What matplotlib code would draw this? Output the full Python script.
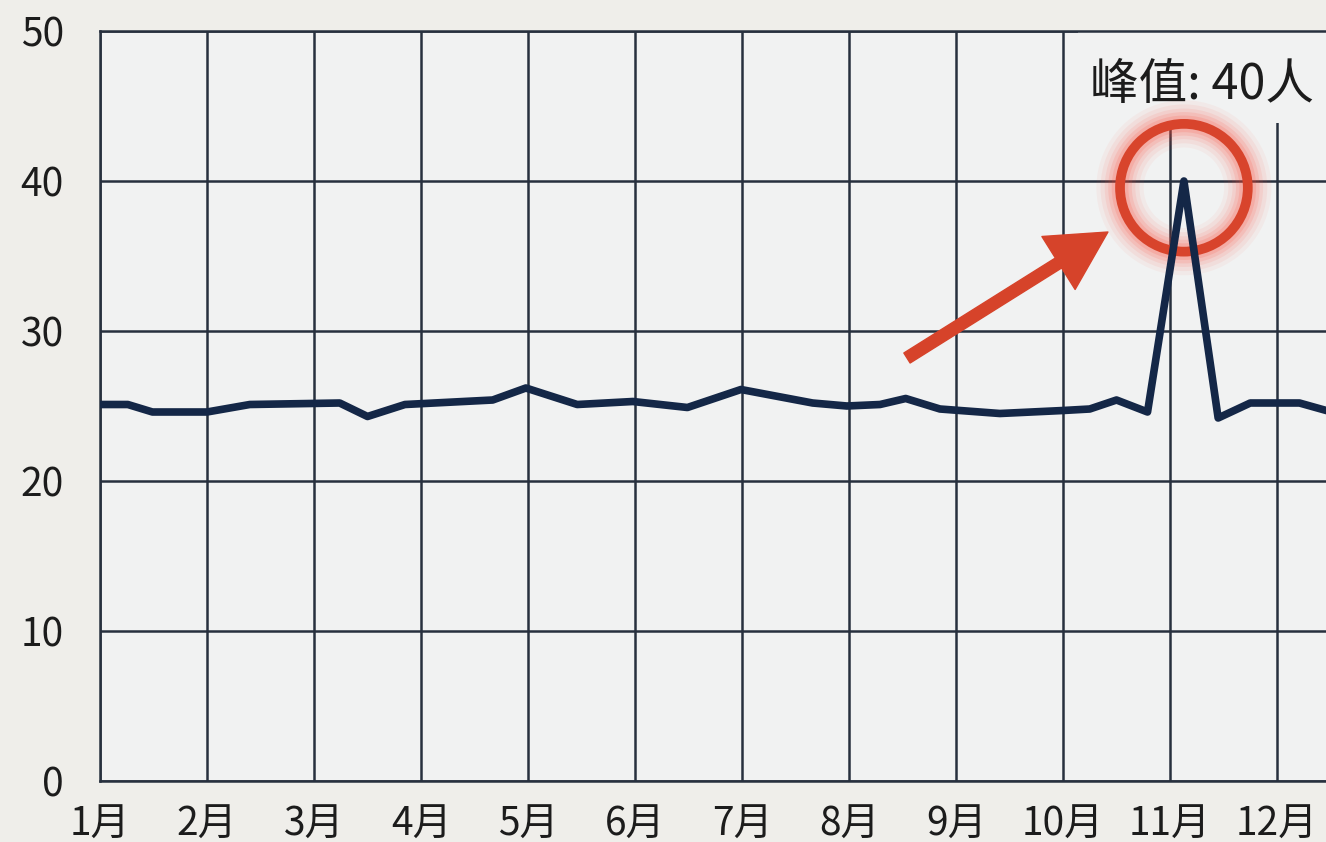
import matplotlib
matplotlib.use("Agg")
import matplotlib.pyplot as plt
from matplotlib.patches import FancyArrowPatch, Rectangle

plt.rcParams['font.family'] = ['Noto Sans CJK SC', 'DejaVu Sans']

# ---- data ----
month_labels = ['1月', '2月', '3月', '4月', '5月', '6月', '7月', '8月', '9月', '10月', '11月', '12月']
month_ticks = list(range(1, 13))
y_ticks = [0, 10, 20, 30, 40, 50]

x_pos = [1.00, 1.26, 1.49, 2.00, 2.40, 3.24, 3.50, 3.85, 4.67, 4.98, 5.46, 5.98,
         6.49, 6.99, 7.66, 7.98, 8.29, 8.53, 8.85, 9.41, 10.00, 10.25, 10.50,
         10.79, 11.13, 11.45, 11.75, 12.21, 12.46, 12.60]
values = [25.1, 25.1, 24.6, 24.6, 25.1, 25.2, 24.3, 25.1, 25.4, 26.2, 25.1, 25.3,
          24.9, 26.1, 25.2, 25.0, 25.1, 25.5, 24.8, 24.5, 24.7, 24.8, 25.4,
          24.6, 40.0, 24.2, 25.2, 25.2, 24.7, 24.5]

peak_x, peak_y = 11.13, 40.0
peak_label = '峰值: 40人'

fig_bg = '#efeeea'
ax_bg = '#f1f2f2'
grid_c = '#27303e'
line_c = '#142747'
red = '#d8442c'

fig = plt.figure(figsize=(13.26, 8.42), dpi=100, facecolor=fig_bg)
ax = fig.add_axes([100/1326, 61/842, (12.6-1)*107/1326, 750/842])
ax.set_facecolor(ax_bg)
ax.set_xlim(1, 12.6)
ax.set_ylim(0, 50)
ax.set_xticks(month_ticks)
ax.set_xticklabels(month_labels, fontweight='medium')
ax.set_yticks(y_ticks)
ax.set_axisbelow(True)
ax.grid(True, color=grid_c, linewidth=1.8)
for s in ['left', 'bottom', 'top']:
    ax.spines[s].set_color(grid_c)
    ax.spines[s].set_linewidth(1.8)
ax.spines['right'].set_visible(False)
ax.tick_params(axis='both', length=0, labelsize=28, colors='#1c1c1c')
ax.tick_params(axis='y', pad=26)
ax.tick_params(axis='x', pad=17)

# cover behind label
ax.add_patch(Rectangle((10.14, 43.9), 3.0, 6.1, facecolor=ax_bg, edgecolor='none', zorder=1))

# glow around circle
cx, cy = peak_x, 39.55
for lw, a in [(34, 0.05), (28, 0.07), (22, 0.09), (17, 0.12), (12, 0.15)]:
    ax.scatter([cx], [cy], s=92**2, facecolors='none', edgecolors='#ff4a35',
               linewidths=lw, alpha=a, zorder=2)
ax.scatter([cx], [cy], s=92**2, facecolors='none', edgecolors=red, linewidths=7, zorder=2.6)

ax.plot(x_pos, values, color=line_c, linewidth=5.5, solid_joinstyle='round',
        solid_capstyle='round', zorder=3)

arrow = FancyArrowPatch((8.542, 28.2), (10.42, 36.6),
                        arrowstyle='simple,head_length=42,head_width=45,tail_width=8.5',
                        mutation_scale=1, color='#d6432a', shrinkA=0, shrinkB=0, zorder=4)
ax.add_patch(arrow)

ax.text(11.30, 46.4, peak_label, fontsize=35, fontweight='medium', ha='center', va='center',
        color='#1c1c1c', zorder=5)

fig.savefig('out.png', dpi=100, facecolor=fig_bg)
